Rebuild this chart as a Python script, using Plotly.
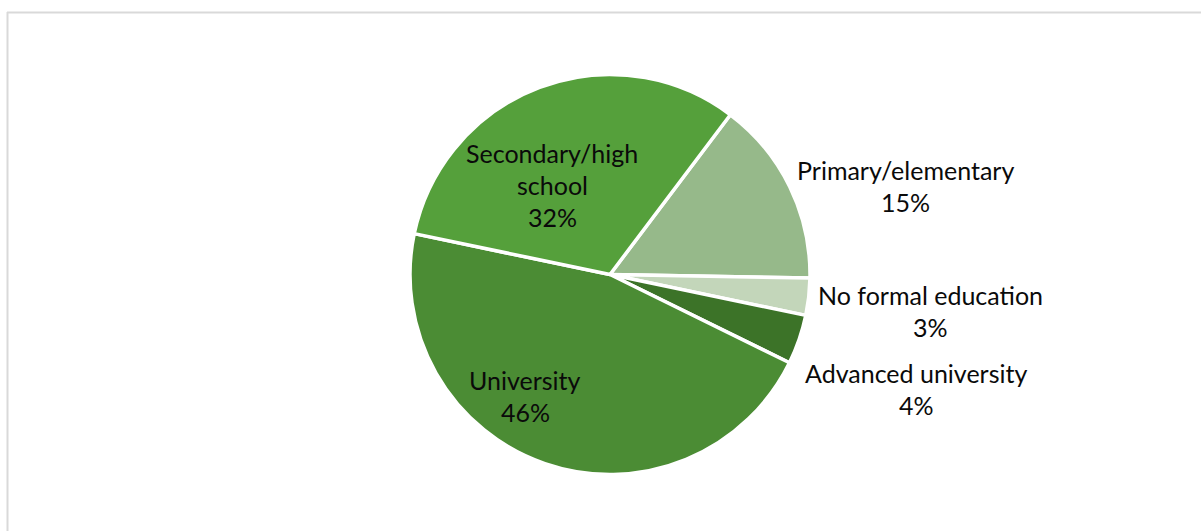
import plotly.graph_objects as go

# Education level shares (percent), listed clockwise starting from Primary/elementary
categories = ["Primary/elementary", "No formal education", "Advanced university",
              "University", "Secondary/high school"]
shares = [15, 3, 4, 46, 32]
colors = ["#96B98A", "#C3D6BA", "#3C7328", "#4B8C34", "#55A03B"]

# Text lines for each category label (name lines, then percent)
label_lines = {
    "Primary/elementary": ["Primary/elementary"],
    "No formal education": ["No formal education"],
    "Advanced university": ["Advanced university"],
    "University": ["University"],
    "Secondary/high school": ["Secondary/high", "school"],
}

W, H = 1201, 531
cx, cy, r = 610, 274.5, 200

# Label block anchor (pixel centre of the first line) per category
label_anchor = {
    "Primary/elementary": (905, 170),
    "No formal education": (930, 295),
    "Advanced university": (916, 373),
    "University": (525, 380),
    "Secondary/high school": (552, 153),
}
line_gap = 32
FONT = "Lato"
FSIZE = 25

fig = go.Figure(go.Pie(
    labels=categories,
    values=shares,
    sort=False,
    direction="clockwise",
    rotation=37,
    marker=dict(colors=colors, line=dict(color="white", width=3.5)),
    textinfo="none",
    hoverinfo="label+percent",
    showlegend=False,
    domain=dict(x=[(cx - r) / W, (cx + r) / W],
                y=[1 - (cy + r) / H, 1 - (cy - r) / H]),
))

total = sum(shares)
annotations = []
for cat, val in zip(categories, shares):
    x0, y0 = label_anchor[cat]
    lines = label_lines[cat] + [f"{round(100 * val / total)}%"]
    for i, txt in enumerate(lines):
        annotations.append(dict(
            x=x0 / W, y=1 - (y0 + i * line_gap) / H,
            xref="paper", yref="paper",
            text=txt, showarrow=False,
            xanchor="center", yanchor="middle",
            font=dict(family=FONT, size=FSIZE, color="#0A0A0A"),
        ))

# Light grey chart frame along the top and left edges
shapes = [
    dict(type="line", xref="paper", yref="paper",
         x0=7 / W, x1=1.0, y0=1 - 12.5 / H, y1=1 - 12.5 / H,
         line=dict(color="#D9D9D9", width=2)),
    dict(type="line", xref="paper", yref="paper",
         x0=7.5 / W, x1=7.5 / W, y0=0, y1=1 - 12 / H,
         line=dict(color="#D9D9D9", width=2)),
]

fig.update_layout(
    width=W, height=H,
    margin=dict(l=0, r=0, t=0, b=0),
    paper_bgcolor="white",
    plot_bgcolor="white",
    annotations=annotations,
    shapes=shapes,
)

fig.write_html("out.html")
